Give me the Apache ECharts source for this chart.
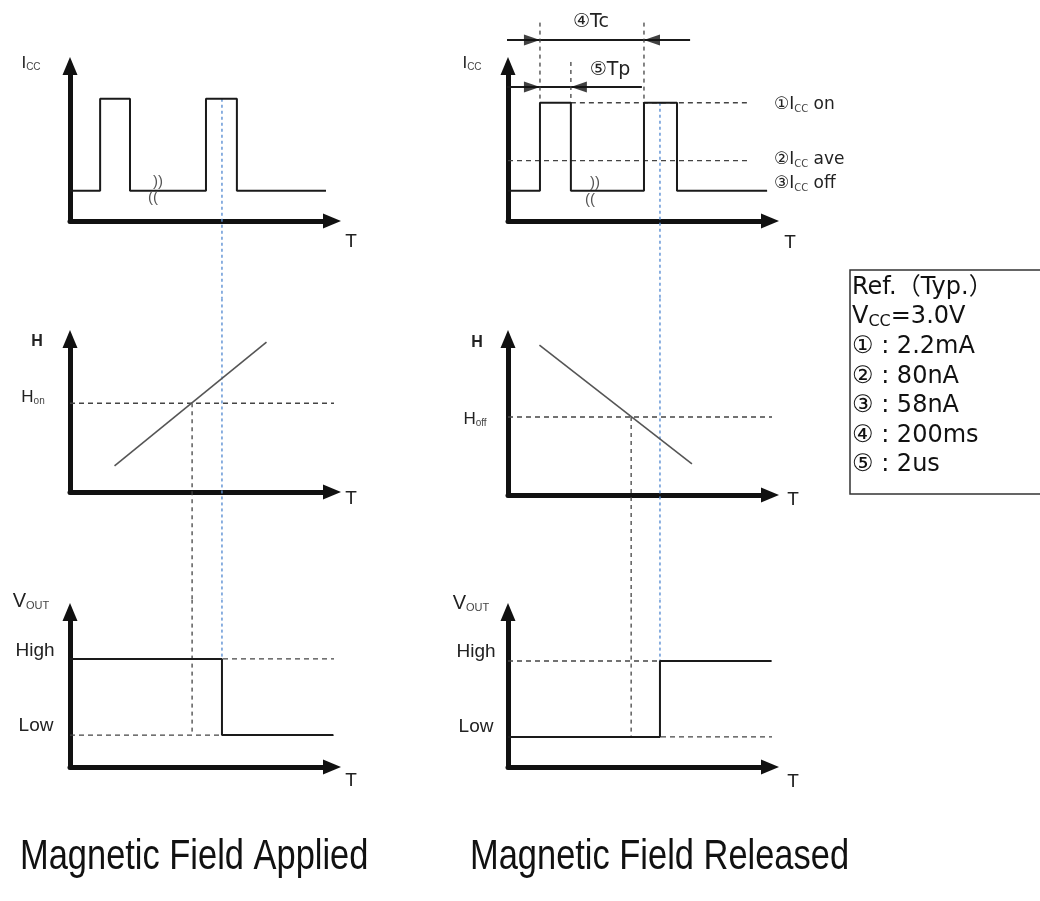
<!DOCTYPE html>
<html><head><meta charset="utf-8">
<script src="https://cdn.jsdelivr.net/npm/echarts@6/dist/echarts.min.js"></script>
<style>html,body{margin:0;padding:0;background:#fff}#c{width:1040px;height:901px}</style>
</head><body><div id="c"></div>
<script>
// ---------- data (schematic time units 0..100, level units 0..100) ----------
// Magnetic Field Applied (left column)
const appliedIcc = [[0,19.5],[11.5,19.5],[11.5,78.9],[22.9,78.9],[22.9,19.5],[51.9,19.5],[51.9,78.9],[63.7,78.9],[63.7,19.5],[97.7,19.5]];
const appliedH = [[17,17],[75,98]];
const appliedHon = [[0,58],[104,58]];
const appliedVout = [[0,69.7],[58,69.7],[58,20.6],[104,20.6]];
const appliedHigh = [[0,69.7],[104,69.7]];
const appliedLow = [[0,20.6],[104,20.6]];
const appliedBlue = [[[58,78.9],[58,-50]], [[58,126.5],[58,-70]], [[58,108],[58,69.7]]];
const appliedCross = [[[46.6,58],[46.6,-70]], [[46.6,108],[46.6,20.6]]];
// Magnetic Field Released (right column)
const releasedIcc = [[0,19.5],[12.2,19.5],[12.2,76.3],[24.0,76.3],[24.0,19.5],[51.9,19.5],[51.9,76.3],[64.5,76.3],[64.5,19.5],[98.9,19.5]];
const releasedOn = [[24.0,76.3],[92.4,76.3]];
const releasedAve = [[0,38.9],[92.4,38.9]];
const tcLine = [[-5.7,116.8],[69.5,116.8]];
const tpLine = [[-5.7,86.5],[51.1,86.5]];
const tcMarks = [[[12.2,128],[12.2,76.3]], [[51.9,128],[51.9,76.3]]];
const tpMark = [[24.0,102.6],[24.0,76.3]];
const arrowsRight = [[12.2,116.8],[12.2,86.5]];
const arrowsLeft = [[51.9,116.8],[24.0,86.5]];
const releasedH = [[12,96],[70.2,19.9]];
const releasedHoff = [[0,50],[104,50]];
const releasedVout = [[0,19.4],[58,19.4],[58,68.4],[104,68.4]];
const releasedHigh = [[0,68.4],[104,68.4]];
const releasedLow = [[0,19.4],[104,19.4]];
const releasedBlue = [[[58,76.3],[58,-50]], [[58,126],[58,-66.7]], [[58,108],[58,68.4]]];
const releasedCross = [[[47,50],[47,-66.7]], [[47,108],[47,19.4]]];
// level labels and reference box
const levelNums = ['①','②','③'];
const levelNames = ['on','ave','off'];
const refNums = ['①','②','③','④','⑤'];
const refVals = ['2.2mA','80nA','58nA','200ms','2us'];
const titles = ['Magnetic Field Applied','Magnetic Field Released'];

// ---------- layout ----------
const grids = [
  {left:70, top:66, width:262, height:155},
  {left:70, top:339, width:262, height:153},
  {left:70, top:612, width:262, height:155},
  {left:508, top:66, width:262, height:155},
  {left:508, top:339, width:262, height:156},
  {left:508, top:612, width:262, height:155}
];
const axisStyle = {
  type:'value', min:0, max:100, splitLine:{show:false}, axisTick:{show:false}, axisLabel:{show:false},
  axisLine:{show:true, onZero:false, symbol:['none','triangle'], symbolSize:[15,18],
    lineStyle:{color:'#111', width:5, cap:'round'}}
};
const xAxes = grids.map((g,i)=>Object.assign({gridIndex:i}, axisStyle));
const yAxes = grids.map((g,i)=>Object.assign({gridIndex:i}, axisStyle));

const SOLID = {color:'#1a1a1a', width:2};
const DASH = {color:'#444', width:1.3, type:[5,4]};
const BLUE = {color:'#5b8fd3', width:1.4, type:[3,3]};
const XDASH = {color:'#444', width:1.3, type:[4,4]};
const SLOPE = {color:'#555', width:1.6};
function line(g, data, ls, z){
  return {type:'line', xAxisIndex:g, yAxisIndex:g, data:data, symbol:'none', clip:false,
    lineStyle:ls, z:z||2, silent:true, animation:false};
}
const series = [
  line(0, appliedIcc, SOLID, 3),
  line(1, appliedHon, DASH), line(1, appliedH, SLOPE, 3),
  line(2, appliedHigh, DASH), line(2, appliedLow, DASH), line(2, appliedVout, SOLID, 3),
  line(0, appliedBlue[0], BLUE), line(1, appliedBlue[1], BLUE), line(2, appliedBlue[2], BLUE),
  line(1, appliedCross[0], XDASH), line(2, appliedCross[1], XDASH),
  line(3, releasedOn, DASH), line(3, releasedAve, DASH), line(3, releasedIcc, SOLID, 3),
  line(3, tcLine, SOLID), line(3, tpLine, SOLID),
  line(3, tcMarks[0], XDASH), line(3, tcMarks[1], XDASH), line(3, tpMark, XDASH),
  line(4, releasedHoff, DASH), line(4, releasedH, SLOPE, 3),
  line(5, releasedHigh, DASH), line(5, releasedLow, DASH), line(5, releasedVout, SOLID, 3),
  line(3, releasedBlue[0], BLUE), line(4, releasedBlue[1], BLUE), line(5, releasedBlue[2], BLUE),
  line(4, releasedCross[0], XDASH), line(5, releasedCross[1], XDASH),
  {type:'scatter', xAxisIndex:3, yAxisIndex:3, data:arrowsRight, symbol:'triangle', symbolSize:[11,16],
   symbolRotate:-90, symbolOffset:[-8,0], itemStyle:{color:'#111'}, clip:false, silent:true, animation:false, z:4},
  {type:'scatter', xAxisIndex:3, yAxisIndex:3, data:arrowsLeft, symbol:'triangle', symbolSize:[11,16],
   symbolRotate:90, symbolOffset:[8,0], itemStyle:{color:'#111'}, clip:false, silent:true, animation:false, z:4}
];

// ---------- texts ----------
const LF = 'Liberation Sans, Arial, sans-serif';
const VF = 'DejaVu Sans, Noto Sans CJK JP, sans-serif';
const INK = '#222';
function txt(x, y, text, opt){
  opt = opt || {};
  return {type:'text', x:x, y:y, z:10, scaleX:opt.scaleX||1,
    style:Object.assign({text:text, fontFamily:opt.font||LF, fontSize:opt.size||16, fill:opt.color||INK,
      fontWeight:opt.weight||'normal', align:opt.align||'center', verticalAlign:'middle'}, opt.rich?{rich:opt.rich}:{})};
}
const subRich = (mSize, sSize, font, weight)=>({
  m:{fontSize:mSize, fontFamily:font||LF, fill:INK, fontWeight:weight||'normal'},
  s:{fontSize:sSize, fontFamily:font||LF, fill:'#444', padding:[Math.round(mSize*0.45),0,0,0]}
});
const graphic = [
  // left column labels
  txt(31, 63, '{m|I}{s|CC}', {rich:subRich(17,10)}),
  txt(351, 242, 'T', {size:19}),
  txt(158, 182, '))', {size:15, color:'#555'}), txt(153, 198, '((', {size:15, color:'#555'}),
  txt(37, 342, 'H', {size:16, weight:'bold'}),
  txt(33, 397, '{m|H}{s|on}', {rich:subRich(17,10)}),
  txt(351, 499, 'T', {size:19}),
  txt(31, 601, '{m|V}{s|OUT}', {rich:subRich(20,11)}),
  txt(35, 651, 'High', {size:19}),
  txt(36, 726, 'Low', {size:19}),
  txt(351, 781, 'T', {size:19}),
  // right column labels
  txt(472, 63, '{m|I}{s|CC}', {rich:subRich(17,10)}),
  txt(790, 243, 'T', {size:19}),
  txt(595, 183, '))', {size:15, color:'#555'}), txt(590, 200, '((', {size:15, color:'#555'}),
  txt(591, 22, '④Tc', {size:19, font:VF}),
  txt(610, 70, '⑤Tp', {size:19, font:VF}),
  txt(774, 105, '{m|' + levelNums[0] + 'I}{s|CC}{m| ' + levelNames[0] + '}', {align:'left', rich:subRich(17,10,VF)}),
  txt(774, 160, '{m|' + levelNums[1] + 'I}{s|CC}{m| ' + levelNames[1] + '}', {align:'left', rich:subRich(17,10,VF)}),
  txt(774, 184, '{m|' + levelNums[2] + 'I}{s|CC}{m| ' + levelNames[2] + '}', {align:'left', rich:subRich(17,10,VF)}),
  txt(477, 343, 'H', {size:16, weight:'bold'}),
  txt(475, 419, '{m|H}{s|off}', {rich:subRich(17,10)}),
  txt(793, 500, 'T', {size:19}),
  txt(471, 603, '{m|V}{s|OUT}', {rich:subRich(20,11)}),
  txt(476, 652, 'High', {size:19}),
  txt(476, 727, 'Low', {size:19}),
  txt(793, 782, 'T', {size:19}),
  // titles
  txt(20, 857, titles[0], {size:42, align:'left', color:'#111', scaleX:0.82}),
  txt(470, 857, titles[1], {size:42, align:'left', color:'#111', scaleX:0.82}),
  // reference box
  {type:'rect', z:9, shape:{x:850, y:270, width:220, height:224}, style:{fill:'none', stroke:'#333', lineWidth:1.5}},
  txt(852, 288, 'Ref.（Typ.）', {size:24, font:VF, align:'left', color:'#111'}),
  txt(852, 317, '{m|V}{s|CC}{m|=3.0V}', {align:'left', rich:{
     m:{fontSize:24, fontFamily:VF, fill:'#111'},
     s:{fontSize:16, fontFamily:VF, fill:'#111', padding:[9,0,0,0]}}})
].concat(refNums.map((n,i)=>txt(852, 347 + i*29.5, n + ' : ' + refVals[i], {size:24, font:VF, align:'left', color:'#111'})));

const chart = echarts.init(document.getElementById('c'), null, {renderer:'canvas'});
chart.setOption({
  animation:false, backgroundColor:'#fff',
  grid:grids, xAxis:xAxes, yAxis:yAxes, series:series, graphic:graphic
});
</script></body></html>
